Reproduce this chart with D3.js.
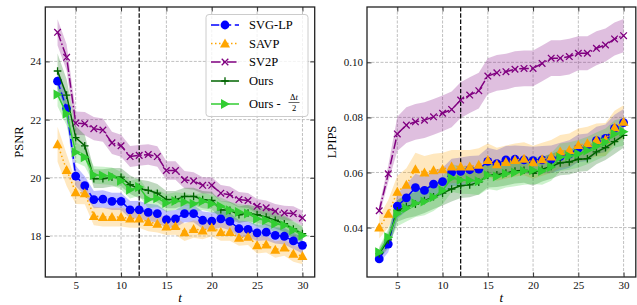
<!DOCTYPE html>
<html><head><meta charset="utf-8">
<script src="https://cdn.jsdelivr.net/npm/d3@7"></script>
<style>
html,body{margin:0;padding:0;background:#fff;}
svg text{font-family:"Liberation Serif","DejaVu Serif",serif;}
</style></head>
<body><svg id="c" width="637" height="305"></svg>
<script>
const steps = d3.range(3, 31);
const xTicks = [5, 10, 15, 20, 25, 30];
const psnrTicks = [18, 20, 22, 24];
const lpipsTicks = [0.04, 0.06, 0.08, 0.10];
const seriesNames = ["SVG-LP", "SAVP", "SV2P", "Ours", "Ours - Δt/2"];

// PSNR means (t = 3..30)
const psnrSVGLP = [23.32,22.38,20.06,19.73,19.25,19.27,19.19,19.19,18.90,18.90,18.81,18.77,18.56,18.59,18.77,18.77,18.54,18.51,18.59,18.50,18.25,18.23,18.11,18.13,18.02,17.99,17.83,17.68];
const psnrSAVP  = [21.15,20.27,19.50,19.47,18.69,18.65,18.65,18.65,18.60,18.60,18.48,18.42,18.33,18.34,18.13,18.24,18.19,18.29,18.14,18.14,17.94,17.97,17.68,17.71,17.53,17.60,17.39,17.31];
const psnrSV2P  = [25.00,24.14,21.88,21.86,21.69,21.64,21.20,21.10,20.73,20.77,20.80,20.73,20.25,20.25,19.93,19.89,19.74,19.74,19.47,19.42,19.25,19.22,19.02,18.97,18.85,18.79,18.77,18.62];
const psnrOurs  = [23.67,22.84,21.38,21.10,19.97,19.97,20.02,20.02,19.76,19.62,19.57,19.47,19.25,19.25,19.36,19.36,19.25,19.22,18.90,18.88,18.73,18.79,18.73,18.65,18.54,18.42,18.24,18.08];
const psnrOursH = [22.86,22.20,20.88,20.71,20.10,20.08,20.05,19.90,19.59,19.68,19.25,19.30,19.13,19.20,19.17,19.11,19.19,19.11,19.02,18.88,18.82,18.77,18.59,18.54,18.42,18.37,18.20,18.02];
// PSNR band half-widths
const psnrSdSVGLP = [0.40,0.40,0.35,0.32,0.30,0.30,0.30,0.30,0.30,0.30,0.30,0.30,0.30,0.30,0.30,0.30,0.30,0.30,0.30,0.30,0.28,0.28,0.28,0.28,0.28,0.28,0.28,0.28];
const psnrSdSAVP  = [0.60,0.55,0.40,0.38,0.32,0.32,0.32,0.32,0.32,0.32,0.32,0.30,0.30,0.30,0.30,0.30,0.30,0.30,0.30,0.30,0.28,0.28,0.28,0.28,0.28,0.28,0.28,0.28];
const psnrSdSV2P  = [0.45,0.45,0.40,0.40,0.40,0.40,0.38,0.38,0.36,0.36,0.35,0.35,0.32,0.32,0.30,0.30,0.28,0.28,0.28,0.28,0.26,0.26,0.25,0.25,0.25,0.25,0.25,0.25];
const psnrSdOurs  = [0.60,0.55,0.40,0.38,0.32,0.32,0.32,0.32,0.32,0.32,0.32,0.32,0.30,0.30,0.30,0.30,0.30,0.30,0.30,0.30,0.28,0.28,0.28,0.28,0.28,0.28,0.28,0.28];
const psnrSdOursH = [0.40,0.40,0.35,0.32,0.30,0.30,0.30,0.30,0.30,0.30,0.30,0.30,0.30,0.30,0.30,0.30,0.30,0.30,0.30,0.30,0.28,0.28,0.28,0.28,0.28,0.28,0.28,0.28];

// LPIPS means (t = 3..30)
const lpipsSVGLP = [0.0286,0.0340,0.0478,0.0508,0.0545,0.0535,0.0558,0.0567,0.0600,0.0604,0.0610,0.0612,0.0640,0.0632,0.0646,0.0648,0.0646,0.0643,0.0646,0.0648,0.0658,0.0667,0.0688,0.0692,0.0716,0.0724,0.0760,0.0781];
const lpipsSAVP  = [0.0400,0.0450,0.0530,0.0555,0.0612,0.0600,0.0608,0.0612,0.0622,0.0622,0.0622,0.0628,0.0645,0.0630,0.0638,0.0645,0.0650,0.0637,0.0648,0.0658,0.0676,0.0682,0.0700,0.0706,0.0718,0.0720,0.0764,0.0784];
const lpipsSV2P  = [0.0461,0.0595,0.0740,0.0772,0.0784,0.0790,0.0802,0.0815,0.0829,0.0863,0.0881,0.0897,0.0950,0.0962,0.0966,0.0975,0.0978,0.0978,0.0996,0.1015,0.1015,0.1021,0.1033,0.1033,0.1051,0.1063,0.1085,0.1097];
const lpipsOurs  = [0.0305,0.0355,0.0461,0.0476,0.0485,0.0498,0.0512,0.0525,0.0540,0.0552,0.0555,0.0565,0.0590,0.0592,0.0598,0.0605,0.0608,0.0597,0.0612,0.0622,0.0635,0.0638,0.0648,0.0650,0.0675,0.0690,0.0712,0.0735];
const lpipsOursH = [0.0310,0.0365,0.0450,0.0470,0.0488,0.0495,0.0510,0.0535,0.0580,0.0573,0.0572,0.0568,0.0590,0.0585,0.0595,0.0600,0.0605,0.0608,0.0605,0.0620,0.0655,0.0660,0.0668,0.0680,0.0695,0.0710,0.0740,0.0748];
// LPIPS band half-widths
const lpipsSdSVGLP = [0.0015,0.0030,0.0045,0.0048,0.0050,0.0050,0.0050,0.0050,0.0050,0.0050,0.0050,0.0050,0.0050,0.0050,0.0050,0.0050,0.0050,0.0050,0.0050,0.0050,0.0050,0.0050,0.0050,0.0050,0.0050,0.0050,0.0050,0.0050];
const lpipsSdSAVP  = [0.0040,0.0050,0.0058,0.0060,0.0060,0.0060,0.0060,0.0060,0.0060,0.0060,0.0060,0.0060,0.0060,0.0060,0.0060,0.0060,0.0060,0.0060,0.0060,0.0060,0.0060,0.0060,0.0060,0.0060,0.0060,0.0060,0.0060,0.0060];
const lpipsSdSV2P  = [0.0020,0.0030,0.0062,0.0065,0.0065,0.0065,0.0065,0.0065,0.0065,0.0065,0.0065,0.0065,0.0065,0.0065,0.0065,0.0065,0.0065,0.0065,0.0065,0.0065,0.0065,0.0065,0.0062,0.0062,0.0062,0.0060,0.0060,0.0060];
const lpipsSdOurs  = [0.0020,0.0030,0.0040,0.0042,0.0044,0.0045,0.0045,0.0045,0.0045,0.0045,0.0045,0.0045,0.0045,0.0045,0.0045,0.0045,0.0045,0.0045,0.0045,0.0045,0.0045,0.0045,0.0045,0.0045,0.0045,0.0045,0.0045,0.0045];
const lpipsSdOursH = [0.0020,0.0030,0.0045,0.0048,0.0050,0.0050,0.0050,0.0050,0.0050,0.0050,0.0050,0.0050,0.0050,0.0050,0.0050,0.0050,0.0050,0.0050,0.0050,0.0050,0.0050,0.0050,0.0050,0.0050,0.0050,0.0050,0.0050,0.0050];

const styles = [
  {color:"#0000ff", dash:"8.3,3.6", marker:"circle"},
  {color:"#ffa500", dash:"1.5,2.5", marker:"triUp"},
  {color:"#800080", dash:"9.6,2.4,1.5,2.4", marker:"x"},
  {color:"#006400", dash:null, marker:"plus"},
  {color:"#32cd32", dash:null, marker:"triRight"}
];

const svg = d3.select("#c");

function drawMarker(g, type, color, x, y) {
  if (type === "circle") {
    g.append("circle").attr("cx", x).attr("cy", y).attr("r", 4.4).attr("fill", color);
  } else if (type === "triUp") {
    const s = 5;
    g.append("path").attr("d", `M${x},${y-s}L${x+s},${y+s*0.8}L${x-s},${y+s*0.8}Z`).attr("fill", color);
  } else if (type === "triRight") {
    const s = 5;
    g.append("path").attr("d", `M${x+s},${y}L${x-s*0.8},${y-s}L${x-s*0.8},${y+s}Z`).attr("fill", color);
  } else if (type === "x") {
    const s = 3.3;
    g.append("path").attr("d", `M${x-s},${y-s}L${x+s},${y+s}M${x-s},${y+s}L${x+s},${y-s}`)
      .attr("stroke", color).attr("stroke-width", 1.3).attr("fill", "none");
  } else if (type === "plus") {
    const s = 3.8;
    g.append("path").attr("d", `M${x-s},${y}L${x+s},${y}M${x},${y-s}L${x},${y+s}`)
      .attr("stroke", color).attr("stroke-width", 1.3).attr("fill", "none");
  }
}

function panel(opts) {
  const {x0, x1, y0, y1, ydom, yticks, yfmt, means, sds, ylabel, ylabelX} = opts;
  const x = d3.scaleLinear().domain([1.65, 31.35]).range([x0, x1]);
  const y = d3.scaleLinear().domain(ydom).range([y1, y0]);
  const g = svg.append("g");
  const clipId = "clip" + Math.round(x0);
  svg.append("clipPath").attr("id", clipId).append("rect")
    .attr("x", x0).attr("y", y0).attr("width", x1 - x0).attr("height", y1 - y0);

  // grid
  const grid = g.append("g").attr("stroke", "#b0b0b0").attr("stroke-width", 0.8).attr("stroke-dasharray", "3,1.5");
  xTicks.forEach(t => grid.append("line").attr("x1", x(t)).attr("x2", x(t)).attr("y1", y0).attr("y2", y1));
  yticks.forEach(t => grid.append("line").attr("x1", x0).attr("x2", x1).attr("y1", y(t)).attr("y2", y(t)));

  const plot = g.append("g").attr("clip-path", `url(#${clipId})`);
  // bands
  means.forEach((m, i) => {
    const area = d3.area().x((d, j) => x(steps[j])).y0((d, j) => y(m[j] - sds[i][j])).y1((d, j) => y(m[j] + sds[i][j]));
    plot.append("path").attr("d", area(m)).attr("fill", styles[i].color).attr("fill-opacity", 0.25);
  });
  // vertical dashed line at t=12
  plot.append("line").attr("x1", x(12)).attr("x2", x(12)).attr("y1", y0).attr("y2", y1)
    .attr("stroke", "#000").attr("stroke-width", 1.2).attr("stroke-dasharray", "4.4,1.9");
  // lines + markers
  means.forEach((m, i) => {
    const line = d3.line().x((d, j) => x(steps[j])).y(d => y(d));
    const p = plot.append("path").attr("d", line(m)).attr("fill", "none")
      .attr("stroke", styles[i].color).attr("stroke-width", 1.5);
    if (styles[i].dash) p.attr("stroke-dasharray", styles[i].dash);
    m.forEach((d, j) => drawMarker(plot, styles[i].marker, styles[i].color, x(steps[j]), y(d)));
  });

  // axes
  const axB = g.append("g").attr("transform", `translate(0,${y1})`)
    .call(d3.axisBottom(x).tickValues(xTicks).tickSizeInner(-4.5).tickSizeOuter(0).tickPadding(4).tickFormat(d3.format("d")));
  const axT = g.append("g").attr("transform", `translate(0,${y0})`)
    .call(d3.axisTop(x).tickValues(xTicks).tickSizeInner(-4.5).tickSizeOuter(0).tickFormat(""));
  const axL = g.append("g").attr("transform", `translate(${x0},0)`)
    .call(d3.axisLeft(y).tickValues(yticks).tickSizeInner(-4.5).tickSizeOuter(0).tickPadding(4).tickFormat(yfmt));
  const axR = g.append("g").attr("transform", `translate(${x1},0)`)
    .call(d3.axisRight(y).tickValues(yticks).tickSizeInner(-4.5).tickSizeOuter(0).tickFormat(""));
  [axB, axT, axL, axR].forEach(a => {
    a.select(".domain").remove();
    a.selectAll("line").attr("stroke", "#222").attr("stroke-width", 0.9);
    a.selectAll("text").attr("font-size", 11).attr("fill", "#111")
      .style("font-family", '"Liberation Serif", serif');
  });
  g.append("rect").attr("x", x0).attr("y", y0).attr("width", x1 - x0).attr("height", y1 - y0)
    .attr("fill", "none").attr("stroke", "#222").attr("stroke-width", 1.3);

  g.append("text").attr("x", (x0 + x1) / 2 + 0).attr("y", 302).attr("text-anchor", "middle")
    .attr("font-size", 13).attr("font-style", "italic").text("t");
  g.append("text").attr("transform", `translate(${ylabelX},${(y0 + y1) / 2}) rotate(-90)`)
    .attr("text-anchor", "middle").attr("font-size", 12.5).text(ylabel);
  return {x, y};
}

panel({x0:45.3, x1:314.7, y0:7, y1:277, ydom:[16.59, 25.87], yticks:psnrTicks, yfmt:d3.format("d"),
  means:[psnrSVGLP, psnrSAVP, psnrSV2P, psnrOurs, psnrOursH],
  sds:[psnrSdSVGLP, psnrSdSAVP, psnrSdSV2P, psnrSdOurs, psnrSdOursH],
  ylabel:"PSNR", ylabelX:23});
panel({x0:367, x1:635.8, y0:7, y1:277, ydom:[0.02204, 0.1201], yticks:lpipsTicks, yfmt:d3.format(".2f"),
  means:[lpipsSVGLP, lpipsSAVP, lpipsSV2P, lpipsOurs, lpipsOursH],
  sds:[lpipsSdSVGLP, lpipsSdSAVP, lpipsSdSV2P, lpipsSdOurs, lpipsSdOursH],
  ylabel:"LPIPS", ylabelX:336});

// legend
const lg = svg.append("g");
lg.append("rect").attr("x", 206).attr("y", 14.5).attr("width", 102).attr("height", 102).attr("rx", 3)
  .attr("fill", "#fff").attr("fill-opacity", 0.8).attr("stroke", "#cccccc").attr("stroke-width", 1);
const legY = [25, 43.5, 62, 81, 104];
seriesNames.forEach((name, i) => {
  const yy = legY[i];
  const l = lg.append("line").attr("x1", 211).attr("x2", 239).attr("y1", yy).attr("y2", yy)
    .attr("stroke", styles[i].color).attr("stroke-width", 1.5);
  if (styles[i].dash) l.attr("stroke-dasharray", styles[i].dash);
  drawMarker(lg, styles[i].marker, styles[i].color, 225, yy);
  if (i < 4) {
    lg.append("text").attr("x", 249).attr("y", yy + 4.2).attr("font-size", 12.5).text(name);
  } else {
    lg.append("text").attr("x", 249).attr("y", yy + 4.2).attr("font-size", 12.5).text("Ours - ");
    lg.append("text").attr("x", 294).attr("y", yy - 4).attr("font-size", 8.5).attr("text-anchor", "middle")
      .text("Δ").append("tspan").attr("font-style", "italic").text("t");
    lg.append("line").attr("x1", 288.5).attr("x2", 299.5).attr("y1", yy - 1.5).attr("y2", yy - 1.5)
      .attr("stroke", "#000").attr("stroke-width", 0.6);
    lg.append("text").attr("x", 294).attr("y", yy + 7).attr("font-size", 8.5).attr("text-anchor", "middle").text("2");
  }
});
</script></body></html>
